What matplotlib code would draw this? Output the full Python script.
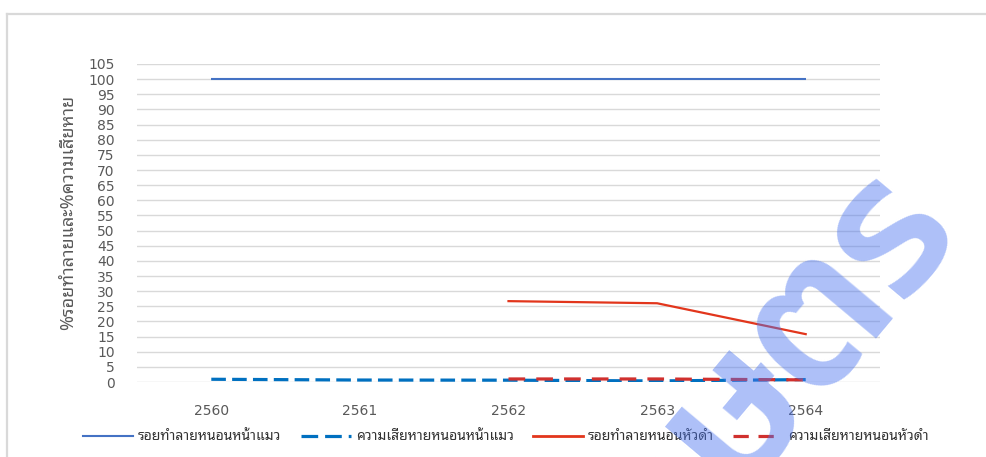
import matplotlib
matplotlib.use("Agg")
import matplotlib.pyplot as plt
from matplotlib.lines import Line2D
import numpy as np

plt.rcParams['font.family'] = ['Noto Sans Thai Looped', 'DejaVu Sans']
plt.rcParams['lines.scale_dashes'] = False

years = ["2560", "2561", "2562", "2563", "2564"]
cat_damage = [100, 100, 100, 100, 100]          # รอยทำลายหนอนหน้าแมว
cat_loss = [0.9, 0.65, 0.6, 0.35, 0.8]          # ความเสียหายหนอนหน้าแมว
black_damage = [None, None, 26.7, 26.0, 15.8]   # รอยทำลายหนอนหัวดำ
black_loss = [None, None, 1.0, 1.0, 0.7]        # ความเสียหายหนอนหัวดำ

labels = ["รอยทำลายหนอนหน้าแมว", "ความเสียหายหนอนหน้าแมว",
          "รอยทำลายหนอนหัวดำ", "ความเสียหายหนอนหัวดำ"]
yticks = list(range(0, 106, 5))
ylabel = "%รอยทำลายและ%ความเสียหาย"
watermark = "เกษตร"

W, H = 987, 457
fig = plt.figure(figsize=(W / 100, H / 100), dpi=100)
ax = fig.add_axes([137 / W, 1 - 382 / H, (880 - 137) / W, (382 - 64) / H])

x = np.arange(len(years))


def series(vals):
    return np.array([np.nan if v is None else v for v in vals], dtype=float)


ax.plot(x, series(cat_damage), color="#4472C4", lw=1.5, solid_capstyle="butt")
ax.plot(x, series(cat_loss), color="#0070C0", lw=2.3, dashes=(10.5, 4.5))
ax.plot(x, series(black_damage), color="#E2361C", lw=1.6)
ax.plot(x, series(black_loss), color="#D0302E", lw=2.3, dashes=(12, 8))

ax.set_xlim(-0.5, len(years) - 0.5)
ax.set_ylim(0, 105)
ax.set_yticks(yticks)
ax.set_xticks(x)
ax.set_xticklabels(years)
ax.yaxis.grid(True, color="#D9D9D9", lw=1.0)
ax.set_axisbelow(True)
for s in ax.spines.values():
    s.set_visible(False)
ax.tick_params(length=0, colors="#595959")
ax.tick_params(axis="y", pad=16)
ax.tick_params(axis="x", pad=16)
for t in ax.get_xticklabels() + ax.get_yticklabels():
    t.set_family(["Liberation Sans Narrow", "DejaVu Sans"])
    t.set_fontsize(10)

fig.text(68 / W, 1 - 212 / H, ylabel, rotation=90, ha="center", va="center",
         fontsize=13, color="#595959")

handles = [
    Line2D([], [], color="#4472C4", lw=1.5),
    Line2D([], [], color="#0070C0", lw=2.3, dashes=(12, 5)),
    Line2D([], [], color="#E2361C", lw=2.0),
    Line2D([], [], color="#D0302E", lw=2.3, dashes=(11, 7)),
]
leg = fig.legend(handles, labels, loc="center", bbox_to_anchor=(506 / W, 1 - 437 / H),
                 ncol=4, frameon=False, fontsize=10, handlelength=3.6,
                 handletextpad=0.35, columnspacing=1.4)
for t in leg.get_texts():
    t.set_color("#333333")

# chart-area frame
fig.add_artist(Line2D([7 / W, 986 / W], [1 - 14 / H, 1 - 14 / H],
                      transform=fig.transFigure, color="#D9D9D9", lw=1.6))
fig.add_artist(Line2D([7 / W, 7 / W], [1 - 14 / H, 0],
                      transform=fig.transFigure, color="#D9D9D9", lw=1.6))

fig.text(960 / W, 1 - 225 / H, watermark, rotation=50, ha="right", va="baseline",
         fontsize=140, family=["Kanit", "DejaVu Sans"], fontweight="medium",
         color="#4A74F0", alpha=0.45, rotation_mode="anchor", zorder=10)

fig.savefig("out.png", dpi=100)
